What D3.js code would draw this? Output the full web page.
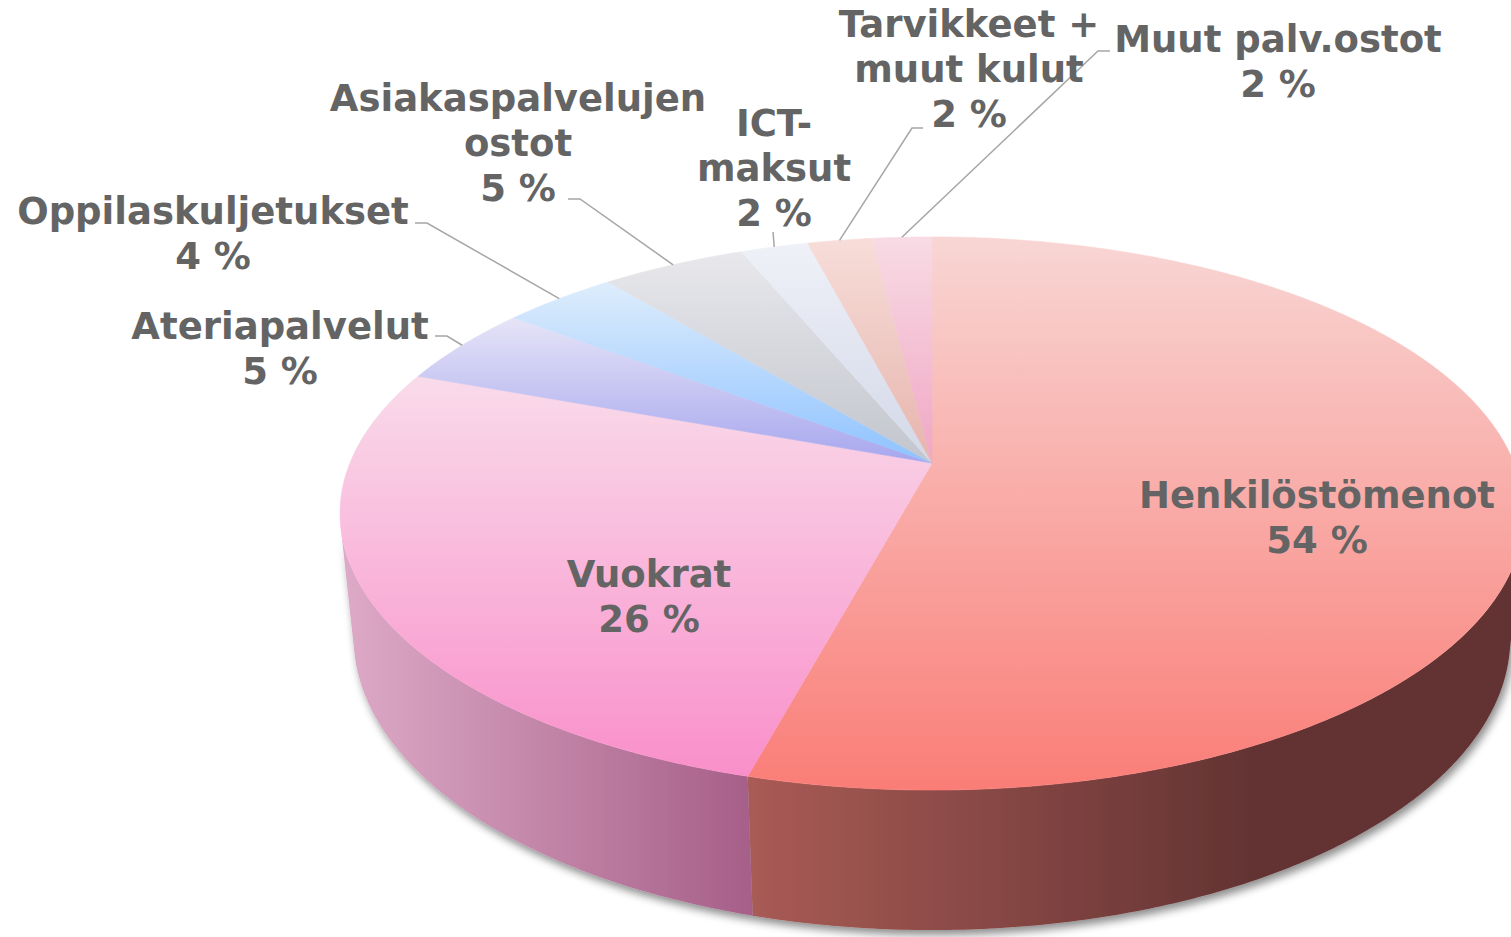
<!DOCTYPE html>
<html>
<head>
<meta charset="utf-8">
<script src="https://cdn.jsdelivr.net/npm/d3@7"></script>
<style>
  body { margin: 0; background: #fff; }
  svg { display: block; }
  .lbl { font-family: "DejaVu Sans", Verdana, sans-serif; font-weight: bold; font-size: 37px; fill: #646464; }
</style>
</head>
<body>
<svg id="chart" width="1511" height="937"></svg>
<script>
// data (share of total, %)
const categories = ["Henkilöstömenot", "Vuokrat", "Ateriapalvelut", "Oppilaskuljetukset",
  "Asiakaspalvelujen ostot", "ICT-maksut", "Tarvikkeet + muut kulut", "Muut palv.ostot"];
const shares = [54.2, 26.4, 4.7, 3.75, 4.7, 2.2, 2.1, 1.95];
const labelLines = [["Henkilöstömenot"], ["Vuokrat"], ["Ateriapalvelut"], ["Oppilaskuljetukset"],
  ["Asiakaspalvelujen", "ostot"], ["ICT-", "maksut"], ["Tarvikkeet +", "muut kulut"], ["Muut palv.ostot"]];

// colours: top face (light -> strong) and side wall (left -> right)
const topLight = ["#f8d6d4", "#f9dbea", "#e6e4f7", "#deedfc", "#e8e8ec", "#eff1f8", "#f7ddd9", "#f8dbe4"];
const topDark  = ["#fa7d77", "#f98fca", "#a6a6ee", "#8ec2ff", "#c2c5cd", "#d3d8e8", "#e6b4ac", "#f0a6c4"];
const sideLight = ["#a95b55", "#ddaac7", "#a0a0d8", "#80acd8", "#a8a8b0", "#b8bccc", "#c89890", "#d890a8"];
const sideDark  = ["#633333", "#a65f88", "#7070b0", "#5a84b8", "#80808a", "#9094a8", "#a07068", "#b06880"];

// label placement (Excel-style data label positions)
const labelPos = [
  {x: 1317, y: 508},
  {x: 649, y: 587},
  {x: 280, y: 339, elbow: [[435, 336], [447, 336]]},
  {x: 213, y: 224, elbow: [[415, 223], [427, 223]]},
  {x: 518, y: 111, elbow: [[568, 199], [580, 199]]},
  {x: 774, y: 136, elbow: [[773, 232]]},
  {x: 969, y: 37, elbow: [[923, 128], [912, 128]]},
  {x: 1278, y: 52, elbow: [[1110, 51], [1098, 51]]}
];

const svg = d3.select("#chart");

// 3D perspective camera for the tilted pie
const cx = 932, cy = 463;
const F = 2831, D = 4.864, phi = Math.asin(0.4593), depthH = 0.242;
function projectPt(x, y, z) {
  const depth = D + y * Math.cos(phi) - z * Math.sin(phi);
  const up = y * Math.sin(phi) + z * Math.cos(phi);
  return [cx + F * x / depth, cy - F * up / depth];
}
function project(theta, z) {
  return projectPt(Math.sin(theta), Math.cos(theta), z);
}
function arcPts(a0, a1, z) {
  const n = Math.max(2, Math.ceil((a1 - a0) / 0.01));
  return d3.range(n + 1).map(i => project(a0 + (a1 - a0) * i / n, z));
}

const pie = d3.pie().sort(null).value(d => d);
const arcs = pie(shares);
const line = d3.line();

const defs = svg.append("defs");
const flt = defs.append("filter").attr("id", "shadow")
  .attr("x", "-10%").attr("y", "-10%").attr("width", "130%").attr("height", "140%");
flt.append("feDropShadow").attr("dx", 3).attr("dy", 5).attr("stdDeviation", 4)
  .attr("flood-color", "#000").attr("flood-opacity", 0.45);

arcs.forEach((d, i) => {
  const gt = defs.append("linearGradient").attr("id", "top" + i)
    .attr("x1", 0).attr("y1", 0).attr("x2", 0).attr("y2", 1);
  gt.append("stop").attr("offset", 0).attr("stop-color", topLight[i]);
  gt.append("stop").attr("offset", 1).attr("stop-color", topDark[i]);
  const gs = defs.append("linearGradient").attr("id", "side" + i)
    .attr("x1", 0).attr("y1", 0).attr("x2", 1).attr("y2", 0);
  gs.append("stop").attr("offset", 0).attr("stop-color", sideLight[i]);
  gs.append("stop").attr("offset", i === 0 ? 0.65 : 1).attr("stop-color", sideDark[i]);
  gs.append("stop").attr("offset", 1).attr("stop-color", sideDark[i]);
});

// visible part of the outer wall
const cosLimit = -1 / (D * Math.cos(phi));
const vis0 = Math.acos(cosLimit), vis1 = 2 * Math.PI - vis0;

const walls = svg.append("g").attr("filter", "url(#shadow)");
arcs.forEach((d, i) => {
  const a0 = Math.max(d.startAngle, vis0), a1 = Math.min(d.endAngle, vis1);
  if (a1 <= a0) return;
  const pts = arcPts(a0, a1, 0).concat(arcPts(a0, a1, -depthH).reverse());
  walls.append("path")
    .attr("d", line(pts) + "Z")
    .attr("fill", `url(#side${i})`);
});

const apex = projectPt(0, 0, 0);
const tops = svg.append("g");
arcs.forEach((d, i) => {
  const pts = [apex].concat(arcPts(d.startAngle, d.endAngle, 0));
  tops.append("path")
    .attr("d", line(pts) + "Z")
    .attr("fill", `url(#top${i})`)
    .attr("stroke", `url(#top${i})`)
    .attr("stroke-width", 0.6);
});

// leader lines
const leaders = svg.append("g");
arcs.forEach((d, i) => {
  const p = labelPos[i];
  if (!p.elbow) return;
  const end = project((d.startAngle + d.endAngle) / 2, 0);
  leaders.append("path")
    .attr("d", line(p.elbow.concat([end])))
    .attr("fill", "none")
    .attr("stroke", "#a6a6a6")
    .attr("stroke-width", 1.5);
});

// labels
const lineH = 44.8;
arcs.forEach((d, i) => {
  const p = labelPos[i];
  const rows = labelLines[i].concat([Math.round(shares[i]) + " %"]);
  const t = svg.append("text").attr("class", "lbl")
    .attr("text-anchor", "middle")
    .attr("x", p.x).attr("y", p.y);
  rows.forEach((r, k) => {
    t.append("tspan").attr("x", p.x).attr("dy", k === 0 ? 0 : lineH).text(r);
  });
});
</script>
</body>
</html>
